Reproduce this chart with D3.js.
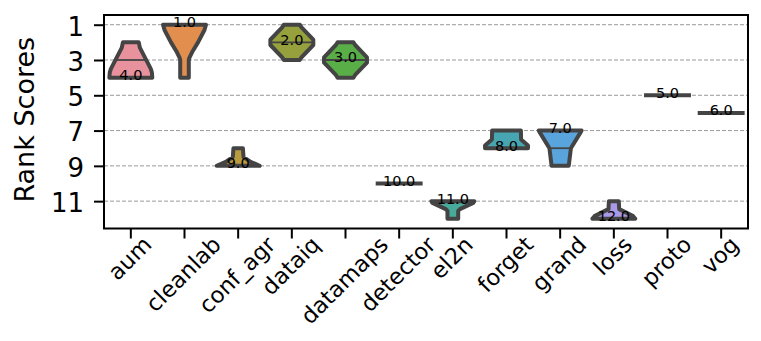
<!DOCTYPE html>
<html>
<head>
<meta charset="utf-8">
<script src="https://cdn.jsdelivr.net/npm/d3@7"></script>
<style>
  html, body { margin: 0; padding: 0; background: #fff; }
  svg { display: block; font-family: "DejaVu Sans", sans-serif; }
</style>
</head>
<body>
<svg id="chart" width="761" height="341"></svg>
<script>
// ---------------- data ----------------
const categories = ["aum", "cleanlab", "conf_agr", "dataiq", "datamaps", "detector",
                    "el2n", "forget", "grand", "loss", "proto", "vog"];
// annotated (final) rank printed on each violin
const finalRanks = [4, 1, 9, 2, 3, 10, 11, 8, 7, 12, 5, 6];
// median rank (inner line)
const medianRanks = [3, 1, 9, 2, 3, 10, 11, 8, 8, 12, 5, 6];
// violin fill colours
const violinColors = ["#e8929d", "#e18e4e", "#b89b3e", "#96a03c", "#5aae47", "#4fae8c",
                      "#48aa9b", "#48a5b2", "#5aa4de", "#aa99e6", "#c18ce2", "#e08ac8"];
// y tick values
const yTicks = [1, 3, 5, 7, 9, 11];
// violin density profiles: [rank, relative half-width]
const aumProfile      = [[2, 0.37], [2.3, 0.42], [3.5, 0.93], [3.7, 0.98], [4, 1]];
const cleanlabProfile = [[1, 1], [1.3, 0.93], [2, 0.63], [2.5, 0.38], [2.9, 0.22], [3, 0.2], [4, 0.2]];
const confAgrProfile  = [[8, 0.22], [8.5, 0.25], [8.75, 0.55], [9, 1]];
const dataiqProfile   = [[1, 0.37], [1.15, 0.45], [1.85, 1], [2.15, 1], [2.85, 0.45], [3, 0.37]];
const datamapsProfile = [[2, 0.37], [2.15, 0.45], [2.85, 1], [3.15, 1], [3.85, 0.45], [4, 0.37]];
const detectorProfile = [[10, 1]];
const el2nProfile     = [[11, 1], [11.1, 0.95], [11.45, 0.33], [11.55, 0.25], [12, 0.25]];
const forgetProfile   = [[7, 0.67], [7.5, 0.68], [7.85, 1], [8, 1]];
const grandProfile    = [[7, 1], [7.1, 0.95], [8, 0.5], [9, 0.4]];
const lossProfile     = [[11, 0.23], [11.45, 0.25], [11.85, 0.9], [12, 1]];
const protoProfile    = [[5, 1]];
const vogProfile      = [[6, 1]];
const profiles = [aumProfile, cleanlabProfile, confAgrProfile, dataiqProfile, datamapsProfile,
                  detectorProfile, el2nProfile, forgetProfile, grandProfile, lossProfile,
                  protoProfile, vogProfile];

// ---------------- layout ----------------
const svg = d3.select("#chart");
const plot = { left: 104, right: 748, top: 15, bottom: 228.5 };

const x = d3.scaleBand().domain(categories).range([plot.left, plot.right]).padding(0);
const y = d3.scaleLinear().domain([0.45, 12.55]).range([plot.top, plot.bottom]);
const maxHalf = x.bandwidth() * 0.4;
const stroke = "#444444";

// grid
svg.append("g").selectAll("line").data(yTicks).join("line")
  .attr("x1", plot.left).attr("x2", plot.right)
  .attr("y1", d => y(d)).attr("y2", d => y(d))
  .attr("stroke", "#9a9a9a").attr("stroke-width", 1)
  .attr("stroke-dasharray", "4,2");

function widthAt(profile, r) {
  if (profile.length === 1) return profile[0][1];
  for (let i = 0; i < profile.length - 1; i++) {
    const a = profile[i], b = profile[i + 1];
    if (r >= a[0] && r <= b[0]) {
      const t = (r - a[0]) / (b[0] - a[0] || 1);
      return a[1] + t * (b[1] - a[1]);
    }
  }
  return profile[profile.length - 1][1];
}

const vg = svg.append("g");
categories.forEach((cat, i) => {
  const cx = x(cat) + x.bandwidth() / 2;
  const prof = profiles[i];
  if (prof.length > 1) {
    const a = d3.area()
      .y(d => y(d[0]))
      .x0(d => cx - d[1] * maxHalf)
      .x1(d => cx + d[1] * maxHalf)
      .curve(d3.curveLinear);
    vg.append("path")
      .attr("d", a(prof))
      .attr("fill", violinColors[i])
      .attr("stroke", stroke)
      .attr("stroke-width", 4)
      .attr("stroke-linejoin", "round");
    const m = medianRanks[i];
    const w = widthAt(prof, m) * maxHalf;
    vg.append("line")
      .attr("x1", cx - w).attr("x2", cx + w)
      .attr("y1", y(m)).attr("y2", y(m))
      .attr("stroke", stroke).attr("stroke-width", 1.8);
  } else {
    const w = prof[0][1] * maxHalf;
    vg.append("line")
      .attr("x1", cx - w).attr("x2", cx + w)
      .attr("y1", y(prof[0][0])).attr("y2", y(prof[0][0]))
      .attr("stroke", stroke).attr("stroke-width", 4)
      .attr("stroke-linecap", "square");
  }
});

// annotations
svg.append("g").selectAll("text").data(categories).join("text")
  .attr("x", d => x(d) + x.bandwidth() / 2)
  .attr("y", (d, i) => y(finalRanks[i]) + 2.5)
  .attr("text-anchor", "middle")
  .attr("font-size", 14.5)
  .attr("fill", "#000")
  .text((d, i) => finalRanks[i].toFixed(1));

// spines
svg.append("rect")
  .attr("x", plot.left).attr("y", plot.top)
  .attr("width", plot.right - plot.left).attr("height", plot.bottom - plot.top)
  .attr("fill", "none").attr("stroke", "#000").attr("stroke-width", 2);

// y axis
const yAxis = svg.append("g")
  .attr("transform", `translate(${plot.left},0)`)
  .call(d3.axisLeft(y).tickValues(yTicks).tickSize(10).tickPadding(10).tickFormat(d3.format("d")));
yAxis.select(".domain").remove();
yAxis.selectAll(".tick line").attr("stroke", "#000").attr("stroke-width", 2);
yAxis.selectAll(".tick text")
  .attr("font-size", 26).attr("font-family", "DejaVu Sans").attr("fill", "#000")
  .attr("dy", "0.40em");

// x axis
const xAxis = svg.append("g")
  .attr("transform", `translate(0,${plot.bottom})`)
  .call(d3.axisBottom(x).tickSize(10));
xAxis.select(".domain").remove();
xAxis.selectAll(".tick line").attr("stroke", "#000").attr("stroke-width", 2);
const fsX = 22.5;
xAxis.selectAll(".tick text")
  .attr("font-size", fsX).attr("font-family", "DejaVu Sans").attr("fill", "#000")
  .attr("text-anchor", "middle")
  .attr("dy", null)
  .each(function () {
    const t = d3.select(this);
    t.attr("y", 0).attr("x", 0);
    const L = this.getComputedTextLength();
    const h = 0.968 * fsX;
    const ext = (L + h) * Math.SQRT1_2;
    const cy = (234 - plot.bottom) + ext / 2;
    const off = 0.276 * fsX * Math.SQRT1_2;
    t.attr("transform", `translate(${off},${cy + off}) rotate(-45)`);
  });

// y label
svg.append("text")
  .attr("transform", `translate(33.5,${(plot.top + plot.bottom) / 2 - 2}) rotate(-90)`)
  .attr("text-anchor", "middle")
  .attr("font-size", 27)
  .attr("fill", "#000")
  .text("Rank Scores");
</script>
</body>
</html>
